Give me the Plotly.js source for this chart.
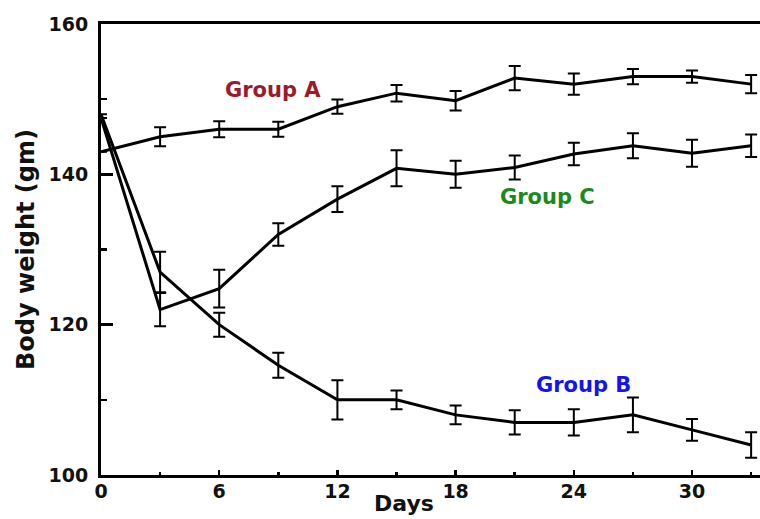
<!DOCTYPE html>
<html>
<head>
<meta charset="utf-8">
<script src="https://cdn.plot.ly/plotly-3.0.1.min.js"></script>
<style>html,body{margin:0;padding:0;background:#fff;}#chart{width:760px;height:519px;}</style>
</head>
<body>
<div id="chart"></div>
<script>
const days = [0, 3, 6, 9, 12, 15, 18, 21, 24, 27, 30, 33];
const groupA = [143, 145, 146, 146, 149, 150.8, 149.8, 152.8, 152, 153, 153, 152];
const errA = [null, 1.25, 1.05, 1, 0.95, 1.1, 1.3, 1.6, 1.4, 1, 0.8, 1.2];
const groupB = [148, 127, 120, 114.6, 110, 110, 108, 107, 107, 108, 106, 104];
const errB = [null, 2.7, 1.6, 1.65, 2.6, 1.25, 1.25, 1.6, 1.75, 2.3, 1.45, 1.7];
const groupC = [147.5, 122, 124.8, 132, 136.7, 140.8, 140, 140.9, 142.7, 143.8, 142.8, 143.8];
const errC = [null, 2.2, 2.5, 1.5, 1.7, 2.4, 1.8, 1.6, 1.5, 1.65, 1.8, 1.5];
const labels = ["Group A", "Group B", "Group C"];
const labelColors = ["#9b1b2e", "#1414f0", "#1a8a1a"];

const FONT = "DejaVu Sans, Arial, sans-serif";
function tr(y, e) {
  return {
    x: days, y: y, mode: "lines", type: "scatter",
    line: {color: "#000", width: 3},
    error_y: {type: "data", array: e, visible: true, color: "#000", thickness: 2, width: 6},
    showlegend: false, hoverinfo: "skip"
  };
}
const data = [tr(groupA, errA), tr(groupB, errB), tr(groupC, errC)];

const layout = {
  width: 760, height: 519,
  margin: {l: 101, r: 0, t: 24, b: 44},
  paper_bgcolor: "#fff", plot_bgcolor: "#fff",
  showlegend: false,
  xaxis: {
    range: [0, 33.45], tickmode: "linear", tick0: 0, dtick: 6,
    ticks: "inside", ticklen: 5, tickwidth: 2.5, tickcolor: "#000",
    minor: {dtick: 3, ticks: "inside", ticklen: 3, tickwidth: 2.5, tickcolor: "#000"},
    showline: true, linewidth: 3, linecolor: "#000", mirror: true,
    showgrid: false, zeroline: false,
    tickfont: {family: FONT, size: 19, color: "#111", weight: "bold"},
    ticklabelstandoff: -3
  },
  yaxis: {
    range: [100, 160], tickmode: "linear", tick0: 100, dtick: 20,
    ticks: "inside", ticklen: 12, tickwidth: 2.5, tickcolor: "#000",
    minor: {dtick: 10, ticks: "inside", ticklen: 6, tickwidth: 2.5, tickcolor: "#000"},
    showline: true, linewidth: 3, linecolor: "#000", mirror: false,
    showgrid: false, zeroline: false,
    tickfont: {family: FONT, size: 19, color: "#111", weight: "bold"},
    ticklabelstandoff: 6,
    title: {text: "Body weight (gm)", font: {family: FONT, size: 24, color: "#111", weight: "bold"}, standoff: 8}
  },
  annotations: [
    {x: 8.73, y: 151.2, xref: "x", yref: "y", text: labels[0], showarrow: false,
     font: {family: FONT, size: 21, color: labelColors[0], weight: "bold"}},
    {x: 24.47, y: 112.0, xref: "x", yref: "y", text: labels[1], showarrow: false,
     font: {family: FONT, size: 21, color: labelColors[1], weight: "bold"}},
    {x: 22.64, y: 137.0, xref: "x", yref: "y", text: labels[2], showarrow: false,
     font: {family: FONT, size: 21, color: labelColors[2], weight: "bold"}},
    {x: (404 - 101) / 659, y: -(518 - 475) / 451, xref: "paper", yref: "paper",
     xanchor: "center", yanchor: "bottom", text: "Days", showarrow: false,
     font: {family: FONT, size: 22, color: "#111", weight: "bold"}}
  ]
};
Plotly.newPlot("chart", data, layout, {displayModeBar: false, staticPlot: true});
</script>
</body>
</html>
